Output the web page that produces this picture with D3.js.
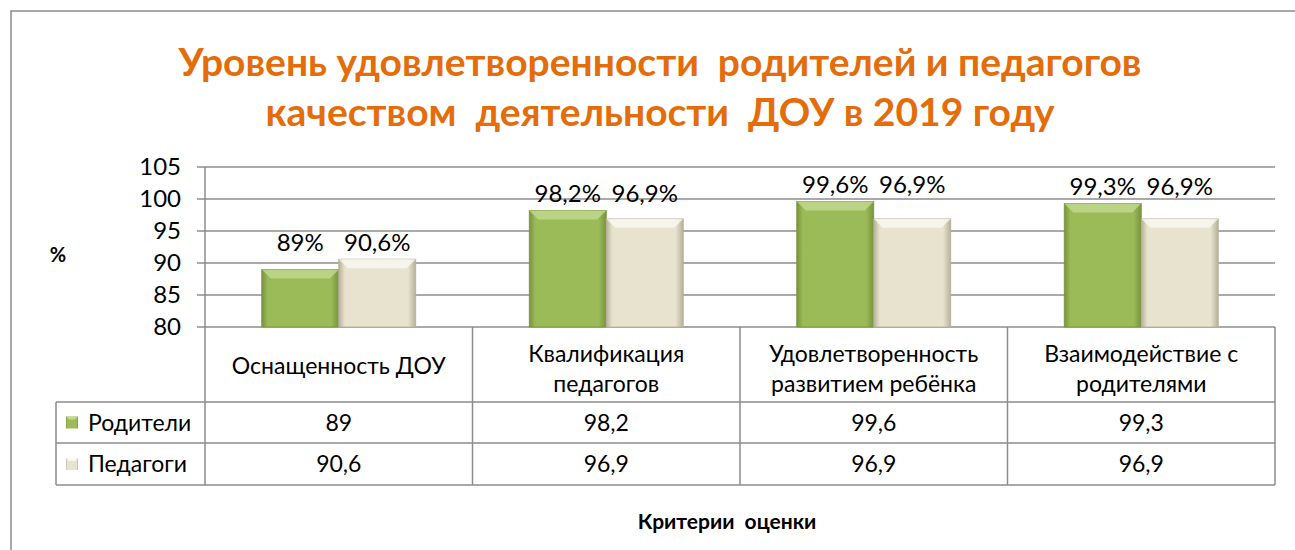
<!DOCTYPE html>
<html>
<head>
<meta charset="utf-8">
<script src="https://cdn.jsdelivr.net/npm/d3@7"></script>
<style>
  body { margin: 0; background: #fff; }
  text { font-family: Lato, "Open Sans", sans-serif; fill: #000; }
</style>
</head>
<body>
<svg id="chart" width="1295" height="550"></svg>
<script>
// data
const categories = [["Оснащенность ДОУ"], ["Квалификация", "педагогов"], ["Удовлетворенность", "развитием ребёнка"], ["Взаимодействие с", "родителями"]]
const seriesNames = ["Родители", "Педагоги"]
const parents = [89, 98.2, 99.6, 99.3]
const teachers = [90.6, 96.9, 96.9, 96.9]
const yTicks = [80, 85, 90, 95, 100, 105]
const titleLines = ["Уровень удовлетворенности  родителей и педагогов", "качеством  деятельности  ДОУ в 2019 году"]

const chart = {left: 205, right: 1275, top: 167, bottom: 327, tableLeft: 56, headBottom: 402, row1: 443, row2: 485}
const colors = {
  Родители: {main: "#9bbb59", light: "#c3d98f", dark: "#77933c"},
  Педагоги: {main: "#e7e3cf", light: "#faf9f2", dark: "#b5b098"}
}

const fmt = v => String(v).replace(".", ",")
const svg = d3.select("#chart")

// gradients for the bevel look
const defs = svg.append("defs")
seriesNames.forEach((s, i) => {
  const g = defs.append("linearGradient").attr("id", "g" + i).attr("x1", 0).attr("x2", 1).attr("y1", 0).attr("y2", 0)
  g.append("stop").attr("offset", "0%").attr("stop-color", colors[s].dark)
  g.append("stop").attr("offset", "8%").attr("stop-color", colors[s].main)
  g.append("stop").attr("offset", "90%").attr("stop-color", colors[s].main)
  g.append("stop").attr("offset", "100%").attr("stop-color", colors[s].dark)
})

// outer frame
svg.append("rect").attr("x", 11).attr("y", 11).attr("width", 1320).attr("height", 580)
  .attr("fill", "none").attr("stroke", "#8c8c8c").attr("stroke-width", 1.5)

// title
svg.selectAll(".title").data(titleLines).join("text")
  .attr("class", "title")
  .attr("x", 660).attr("y", (d, i) => 76 + i * 50)
  .attr("text-anchor", "middle")
  .style("font-size", "39px").style("font-weight", "bold").style("fill", "#e46c0a")
  .style("white-space", "pre")
  .text(d => d)

const y = d3.scaleLinear().domain([80, 105]).range([chart.bottom, chart.top])
const x0 = d3.scaleBand().domain(d3.range(categories.length)).range([chart.left, chart.right])
const x1 = d3.scaleBand().domain(seriesNames).range([0, x0.bandwidth()]).paddingOuter(0.737)

// gridlines + ticks
svg.append("g").selectAll("line").data(yTicks).join("line")
  .attr("x1", chart.left - 8).attr("x2", chart.right)
  .attr("y1", d => y(d)).attr("y2", d => y(d))
  .attr("stroke", "#8c8c8c").attr("stroke-width", 1.5)

svg.append("g").selectAll("text").data(yTicks).join("text")
  .attr("x", 181).attr("y", d => y(d)).attr("dy", "0.35em")
  .attr("text-anchor", "end").style("font-size", "24px")
  .text(d => d)

svg.append("line").attr("x1", chart.left).attr("x2", chart.left)
  .attr("y1", chart.top).attr("y2", chart.row2)
  .attr("stroke", "#8c8c8c").attr("stroke-width", 1.5)

// bars
const barData = []
categories.forEach((c, i) => {
  barData.push({cat: i, s: seriesNames[0], si: 0, v: parents[i]})
  barData.push({cat: i, s: seriesNames[1], si: 1, v: teachers[i]})
})

const bars = svg.append("g").selectAll("g").data(barData).join("g")
  .attr("transform", d => `translate(${x0(d.cat) + x1(d.s)},0)`)

bars.append("rect")
  .attr("x", 0).attr("width", x1.bandwidth())
  .attr("y", d => y(d.v)).attr("height", d => y(80) - y(d.v))
  .attr("fill", d => `url(#g${d.si})`)
  .attr("stroke", d => colors[d.s].dark).attr("stroke-width", 0.8)

// top bevel
bars.append("path")
  .attr("d", d => {
    const w = x1.bandwidth(), t = y(d.v), b = 9
    return `M0,${t} L${w},${t} L${w - b},${t + b} L${b},${t + b} Z`
  })
  .attr("fill", d => colors[d.s].light).attr("opacity", 0.8)

// data labels
const groupTop = categories.map((c, i) => y(Math.max(parents[i], teachers[i])))
bars.append("text")
  .attr("x", x1.bandwidth() / 2)
  .attr("y", d => groupTop[d.cat] - 17)
  .attr("dy", "0.35em")
  .attr("text-anchor", "middle").style("font-size", "24px")
  .text(d => fmt(d.v) + "%")

// data table
const grid = svg.append("g").attr("stroke", "#8c8c8c").attr("stroke-width", 1.5)
x0.domain().forEach(i => {
  grid.append("line").attr("x1", x0(i) + x0.bandwidth()).attr("x2", x0(i) + x0.bandwidth())
    .attr("y1", chart.bottom).attr("y2", chart.row2)
})
;[chart.headBottom, chart.row1, chart.row2].forEach(yy => {
  grid.append("line").attr("x1", chart.tableLeft).attr("x2", chart.right).attr("y1", yy).attr("y2", yy)
})
grid.append("line").attr("x1", chart.tableLeft).attr("x2", chart.tableLeft)
  .attr("y1", chart.headBottom).attr("y2", chart.row2)

// category header
svg.append("g").selectAll("text").data(categories).join("text")
  .attr("x", (d, i) => x0(i) + x0.bandwidth() / 2)
  .attr("y", d => d.length === 1 ? 366 : 354)
  .attr("text-anchor", "middle").style("font-size", "23px")
  .selectAll("tspan").data(d => d).join("tspan")
  .attr("x", function () { return d3.select(this.parentNode).attr("x") })
  .attr("dy", (d, i) => i === 0 ? "0.35em" : "1.3em")
  .text(d => d)

// rows
const rows = [{name: seriesNames[0], vals: parents, y: (chart.headBottom + chart.row1) / 2},
              {name: seriesNames[1], vals: teachers, y: (chart.row1 + chart.row2) / 2}]
rows.forEach((r, ri) => {
  svg.append("rect").attr("x", 66).attr("y", r.y - 6).attr("width", 12).attr("height", 12)
    .attr("fill", `url(#g${ri})`)
  svg.append("path").attr("d", `M66,${r.y - 6} L78,${r.y - 6} L75,${r.y - 3} L69,${r.y - 3} Z`)
    .attr("fill", colors[r.name].light)
  svg.append("text").attr("x", 88).attr("y", r.y).attr("dy", "0.35em")
    .style("font-size", "23px").text(r.name)
  svg.append("g").selectAll("text").data(r.vals).join("text")
    .attr("x", (d, i) => x0(i) + x0.bandwidth() / 2).attr("y", r.y).attr("dy", "0.35em")
    .attr("text-anchor", "middle").style("font-size", "23px")
    .text(d => fmt(d))
})

// axis titles
svg.append("text").attr("x", 58).attr("y", 255).attr("dy", "0.35em").attr("text-anchor", "middle")
  .style("font-size", "20px").style("font-weight", "bold").text("%")
svg.append("text").attr("x", 727).attr("y", 522).attr("dy", "0.35em").attr("text-anchor", "middle")
  .style("font-size", "21px").style("font-weight", "bold").style("white-space", "pre").text("Критерии  оценки")
</script>
</body>
</html>
